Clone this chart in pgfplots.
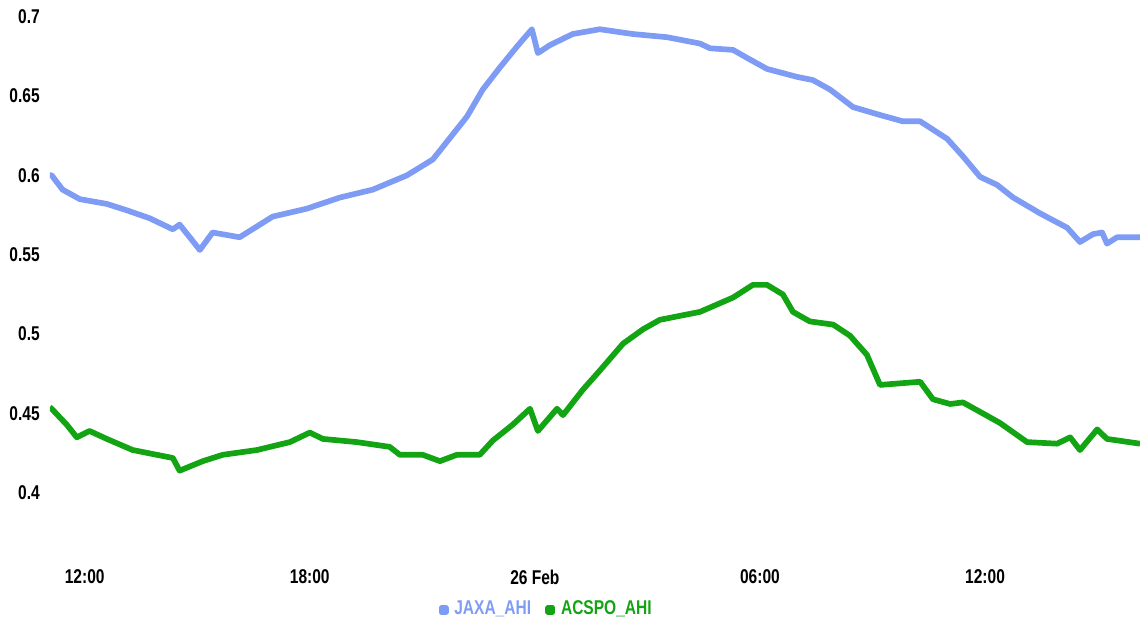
\documentclass[border=0pt]{standalone}
\usepackage{pgfplots}
\pgfplotsset{compat=1.18}
\usepackage{fontspec}
\setmainfont[FakeStretch=0.78]{Liberation Sans}

\definecolor{jaxa}{HTML}{7F9CF5}
\definecolor{acspo}{HTML}{12A412}

\begin{document}
\begin{tikzpicture}[font=\fontsize{7}{8}\selectfont\bfseries]
  \begin{axis}[
      scale only axis,
      width=383pt, height=190.5pt,
      xmin=11.07, xmax=40.13,
      ymin=0.365, ymax=0.7065,
      axis line style={draw=none},
      major tick style={draw=none},
      xtick={12,18,24,30,36},
      xticklabels={12:00,18:00,26 Feb,06:00,12:00},
      ytick={0.4,0.45,0.5,0.55,0.6,0.65,0.7},
      yticklabels={0.4,0.45,0.5,0.55,0.6,0.65,0.7},
      xticklabel style={yshift=-4pt},
      legend style={draw=none, fill=none, at={(0.457,-0.085)}, anchor=north,
        legend columns=2, /tikz/every even column/.append style={column sep=3pt},
        inner sep=0pt},
      legend image code/.code={\fill[#1] (0.6pt,-0.75pt) rectangle (2.1pt,0.75pt);},
      legend cell align=left,
    ]

    % JAXA_AHI
    \addplot[jaxa, line width=2pt, line join=round] coordinates {
      (11.07,0.600) (11.12,0.600) (11.41,0.591) (11.87,0.585) (12.59,0.582)
      (13.12,0.578) (13.73,0.573) (14.35,0.566) (14.53,0.569) (15.07,0.553)
      (15.41,0.564) (16.13,0.561) (17.01,0.574) (17.92,0.579) (18.80,0.586)
      (19.68,0.591) (20.59,0.600) (21.28,0.610) (22.19,0.637) (22.61,0.654)
      (23.07,0.668) (23.52,0.681) (23.92,0.692) (24.08,0.677) (24.40,0.682)
      (25.01,0.689) (25.73,0.692) (26.61,0.689) (27.52,0.687) (28.40,0.683)
      (28.67,0.680) (29.28,0.679) (29.73,0.673) (30.19,0.667) (30.99,0.662)
      (31.41,0.660) (31.87,0.654) (32.48,0.643) (33.20,0.638) (33.81,0.634)
      (34.27,0.634) (34.99,0.623) (35.41,0.612) (35.87,0.599) (36.32,0.594)
      (36.75,0.586) (37.47,0.576) (38.19,0.567) (38.53,0.558) (38.88,0.563)
      (39.12,0.564) (39.25,0.557) (39.52,0.561) (40.13,0.561)
    };
    \addlegendentry{\textcolor{jaxa}{JAXA\_AHI}}

    % ACSPO_AHI
    \addplot[acspo, line width=2pt, line join=round] coordinates {
      (11.07,0.454) (11.12,0.453) (11.52,0.443) (11.79,0.435) (12.13,0.439)
      (12.59,0.434) (13.28,0.427) (13.92,0.424) (14.35,0.422) (14.53,0.414)
      (15.15,0.420) (15.68,0.424) (16.59,0.427) (17.47,0.432) (18.00,0.438)
      (18.35,0.434) (19.25,0.432) (20.13,0.429) (20.40,0.424) (21.01,0.424)
      (21.47,0.420) (21.92,0.424) (22.53,0.424) (22.88,0.433) (23.41,0.443)
      (23.87,0.453) (24.08,0.439) (24.59,0.453) (24.75,0.449) (25.28,0.465)
      (25.73,0.477) (26.35,0.494) (26.88,0.503) (27.33,0.509) (28.40,0.514)
      (29.28,0.523) (29.81,0.531) (30.19,0.531) (30.61,0.525) (30.88,0.514)
      (31.33,0.508) (31.95,0.506) (32.40,0.499) (32.85,0.487) (33.20,0.468)
      (34.27,0.470) (34.61,0.459) (35.07,0.456) (35.41,0.457) (35.87,0.451)
      (36.40,0.444) (37.12,0.432) (37.92,0.431) (38.27,0.435) (38.53,0.427)
      (38.99,0.440) (39.25,0.434) (40.13,0.431)
    };
    \addlegendentry{\textcolor{acspo}{ACSPO\_AHI}}

  \end{axis}
\end{tikzpicture}
\end{document}
